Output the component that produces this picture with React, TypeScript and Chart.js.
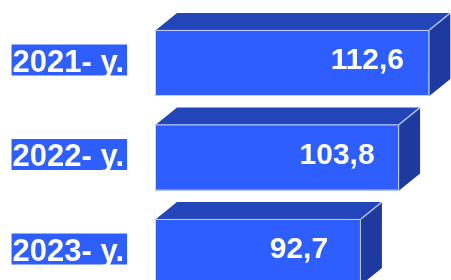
import { useEffect, useRef } from "react";
import { Chart, registerables } from "chart.js";

Chart.register(...registerables);

const categories = ["2021- y.", "2022- y.", "2023- y."];
const values = [112.6, 103.8, 92.7];
const valueLabels = ["112,6", "103,8", "92,7"];
const axisMin = 32.8;
const axisMax = 118.9;

const FRONT = "#2F5EFE";
const TOP = "#2246BA";
const SIDE = "#1F3A9E";
const EDGE = "#C9D3FF";
const FONT = "'Liberation Sans', Arial, sans-serif";

const bar3d = {
  id: "bar3d",
  afterDatasetsDraw(chart: any) {
    const ctx = chart.ctx as CanvasRenderingContext2D;
    const meta = chart.getDatasetMeta(0);
    const dx = 21;
    const dy = 17;
    ctx.save();
    meta.data.forEach((bar: any, i: number) => {
      const { x, y, base, height } = bar.getProps(["x", "y", "base", "height"], true);
      const top = y - height / 2;
      const bottom = y + height / 2;
      const left = base;
      const right = x;
      ctx.beginPath();
      ctx.moveTo(left + 1, top);
      ctx.lineTo(left + 1 + dx, top - dy);
      ctx.lineTo(right + dx, top - dy);
      ctx.lineTo(right, top);
      ctx.closePath();
      ctx.fillStyle = TOP;
      ctx.fill();
      ctx.beginPath();
      ctx.moveTo(right, top);
      ctx.lineTo(right + dx, top - dy);
      ctx.lineTo(right + dx, bottom - dy);
      ctx.lineTo(right, bottom);
      ctx.closePath();
      ctx.fillStyle = SIDE;
      ctx.fill();
      ctx.strokeStyle = EDGE;
      ctx.lineWidth = 1.2;
      ctx.beginPath();
      ctx.moveTo(right, top);
      ctx.lineTo(right + dx, top - dy);
      ctx.stroke();
      ctx.beginPath();
      ctx.rect(left + 0.5, top + 0.5, right - left - 1, height - 1);
      ctx.lineWidth = 1;
      ctx.stroke();
      ctx.fillStyle = "#FFFFFF";
      ctx.font = `bold 30px ${FONT}`;
      ctx.textAlign = "center";
      ctx.textBaseline = "middle";
      ctx.fillText(valueLabels[i], right - 62, y - 2);
    });
    ctx.restore();
  },
};

export default function App() {
  const ref = useRef<HTMLCanvasElement | null>(null);

  useEffect(() => {
    if (!ref.current) return;
    const chart = new Chart(ref.current, {
      type: "bar",
      data: {
        labels: categories,
        datasets: [
          {
            data: values,
            base: axisMin,
            backgroundColor: FRONT,
            borderWidth: 0,
            categoryPercentage: 1,
            barPercentage: 0.7,
          },
        ],
      },
      options: {
        indexAxis: "y",
        animation: false,
        responsive: false,
        events: [],
        layout: { padding: { top: 15.75, bottom: 0.75, left: 0, right: 0 } },
        plugins: {
          legend: { display: false },
          tooltip: { enabled: false },
          title: { display: false },
        },
        scales: {
          x: {
            display: false,
            min: axisMin,
            max: axisMax,
          },
          y: {
            grid: { display: false, drawTicks: false },
            border: { display: false },
            afterFit: (scale: any) => {
              scale.width = 155;
              scale.paddingTop = 0;
              scale.paddingBottom = 0;
            },
            ticks: {
              padding: 31,
              color: "#FFFFFF",
              font: { family: FONT, size: 31, weight: "bold", lineHeight: 1.0 },
              showLabelBackdrop: true,
              backdropColor: FRONT,
              backdropPadding: { top: 3, bottom: -3, left: 1, right: 3 },
            },
          },
        },
      },
      plugins: [bar3d],
    } as any);
    return () => chart.destroy();
  }, []);

  return (
    <div
      style={{
        position: "fixed",
        left: 0,
        top: 0,
        width: 451,
        height: 280,
        overflow: "hidden",
        background: "#FFFFFF",
      }}
    >
      <canvas ref={ref} width={451} height={300} style={{ display: "block" }} />
    </div>
  );
}
